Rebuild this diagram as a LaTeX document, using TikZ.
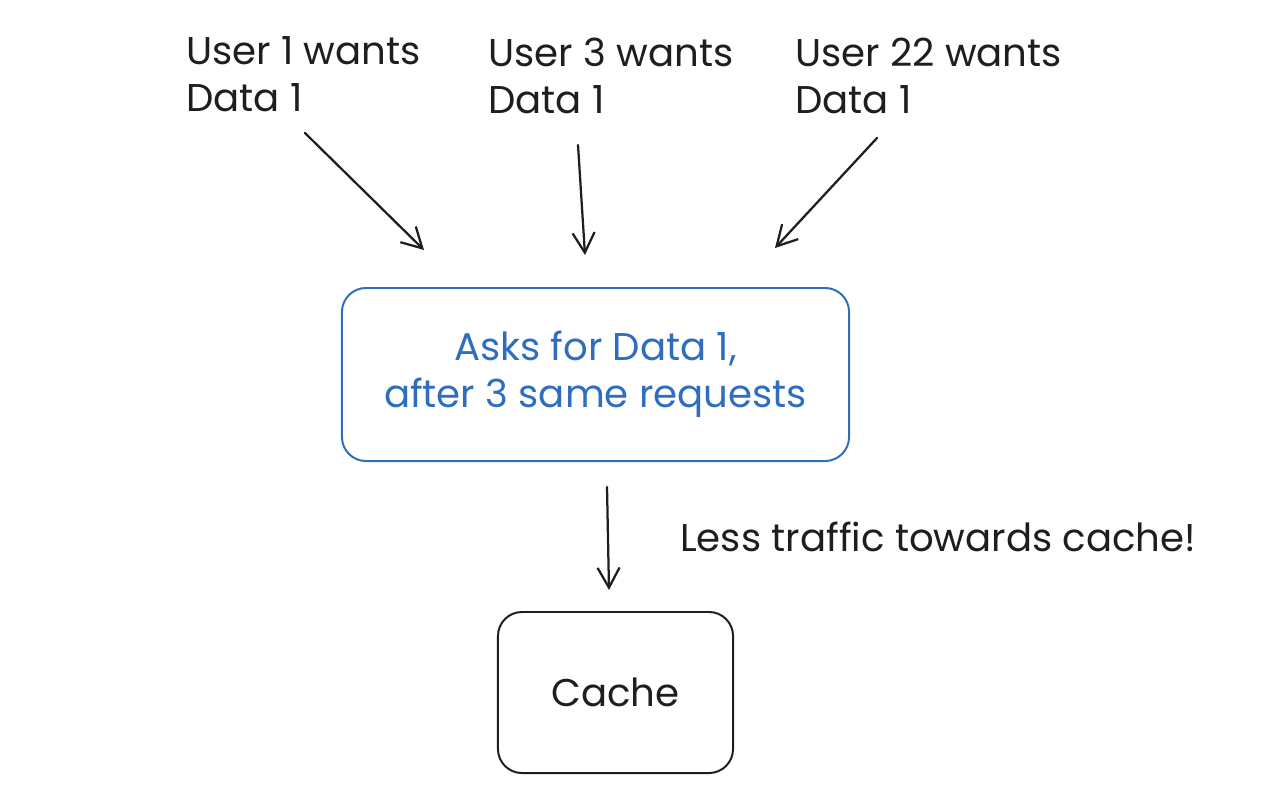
\documentclass[tikz,border=0pt]{standalone}
\usepackage{fontspec}
\setmainfont{Poppins}
\usepackage{xcolor}
\usepackage{tikz}
\usetikzlibrary{arrows.meta,positioning}
\definecolor{askBlue}{HTML}{2F6DBF}
\definecolor{inkBlack}{HTML}{1E1E1E}

\begin{document}
\begin{tikzpicture}[x=0.025cm, y=-0.025cm,
  every node/.style={font=\fontsize{27.5}{33.5}\selectfont, text=inkBlack},
  usertxt/.style={anchor=west, align=left, inner sep=0pt},
  arr/.style={draw=inkBlack, line width=1.6pt, line cap=round,
    -{Straight Barb[length=0.5cm, width=0.55cm, line width=1.6pt]}},
  box/.style={draw, line width=1.4pt, rounded corners=0.6cm, align=center}]
\useasboundingbox (0,0) rectangle (1280,811);
% ---------- users asking for the same data ----------
\node[usertxt] (u1) at (186,74) {User 1 wants\\Data 1};
\node[usertxt] (u2) at (488,76) {User 3 wants\\Data 1};
\node[usertxt] (u3) at (795,76) {User 22 wants\\Data 1};
% ---------- collapsing box ----------
\node[box, draw=askBlue, text=askBlue, minimum width=12.675cm, minimum height=4.325cm]
  (ask) at (595.5,374.5) {Asks for Data 1,\\after 3 same requests};
\node[box, draw=inkBlack, minimum width=5.875cm, minimum height=4.025cm]
  (cache) at (615.5,692.5) {Cache};
\node[anchor=west, inner sep=0pt] (less) at (680,537) {Less traffic towards cache!};
% ---------- arrow ends ----------
\coordinate (s1) at (305,133);  \coordinate (t1) at (424,250);
\coordinate (s2) at (578,145);  \coordinate (t2) at (585,255);
\coordinate (s3) at (877,138);  \coordinate (t3) at (775,248);
\coordinate (s4) at (607,487);  \coordinate (t4) at (609,590);
\draw[arr] (s1) -- (t1);
\draw[arr] (s2) -- (t2);
\draw[arr] (s3) -- (t3);
\draw[arr] (s4) -- (t4);
\end{tikzpicture}
\end{document}
